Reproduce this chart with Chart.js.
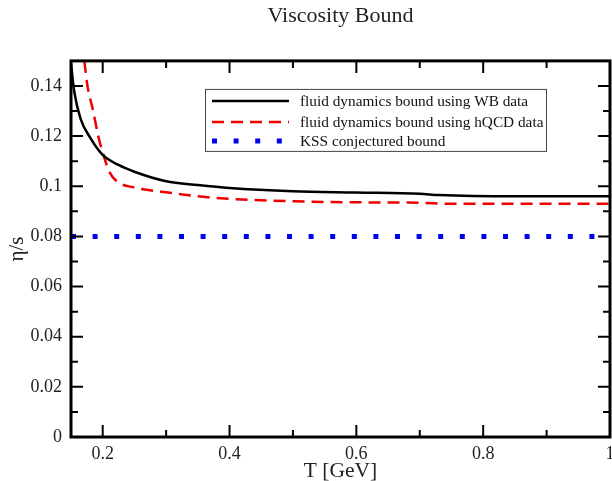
<!DOCTYPE html>
<html>
<head>
<meta charset="utf-8">
<script src="https://cdn.jsdelivr.net/npm/chart.js@4/dist/chart.umd.min.js"></script>
<style>
  html, body { margin: 0; padding: 0; background: #fff; }
  #wrap { width: 612px; height: 481px; }
</style>
</head>
<body>
<div id="wrap"><canvas id="ViscChart"></canvas></div>
<script>
// temperatures (GeV) and eta/s values
const wbT   = [0.150, 0.155, 0.165, 0.180, 0.200, 0.225, 0.250, 0.300, 0.350, 0.400, 0.500, 0.600, 0.700, 0.730, 0.850, 1.000];
const wbEta = [0.149, 0.138, 0.127, 0.1195, 0.1125, 0.1085, 0.1058, 0.102, 0.1005, 0.0993, 0.098, 0.0975, 0.097, 0.0965, 0.096, 0.096];

const hqT   = [0.171, 0.176, 0.185, 0.193, 0.200, 0.210, 0.222, 0.250, 0.300, 0.350, 0.400, 0.500, 0.600, 0.700, 0.750, 0.850, 1.000];
const hqEta = [0.150, 0.140, 0.130, 0.120, 0.1135, 0.106, 0.102, 0.0995, 0.0976, 0.096, 0.095, 0.094, 0.0936, 0.0934, 0.093, 0.093, 0.093];

const kssT   = [0.15, 1.0];
const kssEta = [0.08, 0.08];

const seriesLabels = ['fluid dynamics bound using WB data', 'fluid dynamics bound using hQCD data', 'KSS conjectured bound'];

const serif = "'Liberation Serif', 'Times New Roman', serif";

function toPoints(xs, ys) {
    return xs.map((x, i) => ({x: x, y: ys[i]}));
}

function fmt(v) {
    return String(Math.round(v * 100) / 100);
}

// frame, inward ticks on all four sides, and the boxed legend
const framePlugin = {
    id: 'frame',
    afterDraw(chart) {
        const ctx = chart.ctx;
        const a = chart.chartArea;
        const xs = chart.scales.x, ys = chart.scales.y;
        ctx.save();
        ctx.strokeStyle = '#000';
        ctx.lineWidth = 2;
        xs.ticks.forEach(t => {
            const px = xs.getPixelForValue(t.value);
            const major = Math.abs(t.value * 5 - Math.round(t.value * 5)) < 1e-6;
            const len = major ? 12 : 7;
            ctx.beginPath();
            ctx.moveTo(px, a.bottom); ctx.lineTo(px, a.bottom - len);
            ctx.moveTo(px, a.top); ctx.lineTo(px, a.top + len);
            ctx.stroke();
        });
        ys.ticks.forEach(t => {
            const py = ys.getPixelForValue(t.value);
            const major = Math.abs(t.value * 50 - Math.round(t.value * 50)) < 1e-6;
            const len = major ? 12 : 7;
            ctx.beginPath();
            ctx.moveTo(a.left, py); ctx.lineTo(a.left + len, py);
            ctx.moveTo(a.right, py); ctx.lineTo(a.right - len, py);
            ctx.stroke();
        });
        ctx.lineWidth = 3;
        ctx.strokeRect(a.left, a.top, a.right - a.left, a.bottom - a.top);

        // legend
        const lx = a.left + 134, ly = a.top + 28, lw = 341, lh = 62;
        ctx.lineWidth = 1;
        ctx.strokeStyle = '#444';
        ctx.fillStyle = '#fff';
        ctx.fillRect(lx, ly, lw, lh);
        ctx.strokeRect(lx + 0.5, ly + 0.5, lw, lh);
        ctx.font = '15.3px ' + serif;
        ctx.textBaseline = 'middle';
        const rows = [12, 33, 52];
        chart.data.datasets.forEach((ds, i) => {
            const yy = ly + rows[i];
            ctx.strokeStyle = ds.borderColor;
            ctx.lineWidth = ds.borderWidth;
            ctx.setLineDash(ds.borderDash || []);
            ctx.lineCap = 'butt';
            ctx.beginPath();
            ctx.moveTo(lx + 7, yy); ctx.lineTo(lx + 84, yy);
            ctx.stroke();
            ctx.setLineDash([]);
            ctx.fillStyle = '#111';
            ctx.fillText(ds.label, lx + 95, yy + 1);
        });
        ctx.restore();
    }
};

let ctxChart = document.getElementById('ViscChart').getContext('2d');
let viscChart = new Chart(ctxChart, {
    type: 'scatter',
    data: {
        datasets: [{
            label: seriesLabels[0],
            data: toPoints(wbT, wbEta),
            showLine: true,
            borderColor: '#000000',
            borderWidth: 2.5,
            pointRadius: 0,
            cubicInterpolationMode: 'monotone'
        },
        {
            label: seriesLabels[1],
            data: toPoints(hqT, hqEta),
            showLine: true,
            borderColor: '#ee0000',
            borderWidth: 2.5,
            borderDash: [12, 7],
            pointRadius: 0,
            cubicInterpolationMode: 'monotone'
        },
        {
            label: seriesLabels[2],
            data: toPoints(kssT, kssEta),
            showLine: true,
            borderColor: '#0000ee',
            borderWidth: 5,
            borderDash: [5, 16.6],
            borderCapStyle: 'butt',
            pointRadius: 0
        }]
    },
    options: {
        responsive: true,
        maintainAspectRatio: false,
        animation: false,
        layout: { padding: { left: 0, right: 2, top: 0, bottom: 0 } },
        scales: {
            x: {
                type: 'linear',
                min: 0.15,
                max: 1,
                grid: { display: false, drawTicks: false },
                border: { display: false },
                ticks: {
                    stepSize: 0.1,
                    includeBounds: false,
                    autoSkip: false,
                    maxRotation: 0,
                    padding: 6,
                    color: '#222',
                    font: { family: serif, size: 18 },
                    callback: v => Math.abs(v * 5 - Math.round(v * 5)) < 1e-6 ? fmt(v) : ''
                },
                title: {
                    display: true,
                    text: 'T [GeV]',
                    color: '#222',
                    font: { family: serif, size: 21.5 },
                    padding: { top: 0, bottom: -3 }
                },
                afterFit: s => { s.height = 44; s.paddingLeft = 0; s.paddingRight = 0; }
            },
            y: {
                min: 0,
                max: 0.15,
                grid: { display: false, drawTicks: false },
                border: { display: false },
                ticks: {
                    stepSize: 0.01,
                    includeBounds: false,
                    autoSkip: false,
                    padding: 9,
                    color: '#222',
                    font: { family: serif, size: 18 },
                    callback: v => Math.abs(v * 50 - Math.round(v * 50)) < 1e-6 ? fmt(v) : ''
                },
                title: {
                    display: true,
                    text: 'η/s',
                    color: '#222',
                    font: { family: serif, size: 21 },
                    padding: { top: 5, bottom: 0 }
                },
                afterFit: s => { s.width = 71; s.paddingTop = 0; s.paddingBottom = 0; }
            }
        },
        plugins: {
            title: {
                display: true,
                fullSize: false,
                text: 'Viscosity Bound',
                color: '#222',
                font: { family: serif, size: 22, weight: 'normal' },
                padding: { top: 3, bottom: 31.5 }
            },
            legend: { display: false },
            tooltip: { enabled: false }
        }
    },
    plugins: [framePlugin]
});
</script>
</body>
</html>
